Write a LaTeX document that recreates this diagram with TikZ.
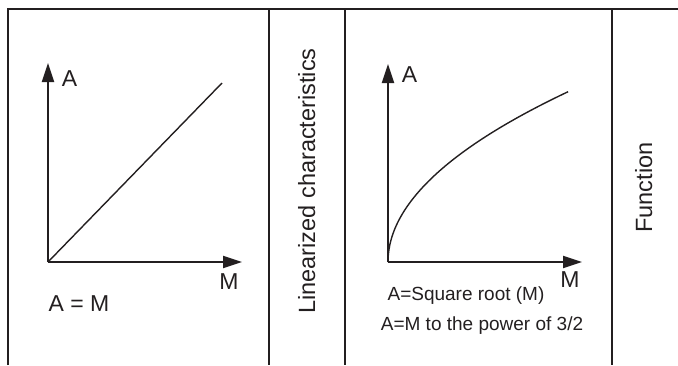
\documentclass[tikz,border=0pt]{standalone}
\usepackage{fontspec}
\setmainfont{Liberation Sans}
\usepackage{xcolor}
\usepackage{tikz}
\usetikzlibrary{arrows.meta, positioning, calc}
\definecolor{ink}{RGB}{35, 31, 32}

\begin{document}
\begin{tikzpicture}[x=1pt, y=-1pt,
    frame/.style={draw=ink, line width=2pt},
    axis/.style={draw=ink, line width=2.2pt, -{Triangle[length=19pt, width=12pt]}},
    graph/.style={draw=ink, line width=1.4pt},
    axlabel/.style={font=\fontsize{23}{27}\selectfont, text=ink, inner sep=0pt},
    note/.style={font=\fontsize{19}{23}\selectfont, text=ink, inner sep=0pt, anchor=base},
    title/.style={font=\fontsize{23.5}{28}\selectfont, text=ink, inner sep=0pt, rotate=90, anchor=base}]
    \useasboundingbox (0,0) rectangle (678,365);

    % Tabella (bordo aperto in basso)
    \draw[frame] (8,365) -- (8,9) -- (678,9);
    \foreach \x in {269, 612} {
        \draw[frame] (\x,9) -- (\x,365);
    }
    \draw[frame, line width=2.5pt] (345,9) -- (345,365);

    % Grafico lineare
    \coordinate (lo) at (48,262);
    \coordinate (ly) at (48,63);
    \coordinate (lx) at (242,262);
    \coordinate (lend) at (222,83);
    \draw[axis] (lo) -- (ly);
    \draw[axis] (lo) -- (lx);
    \draw[graph] (lo) -- (lend);
    \node[axlabel] (lA) at (69.5,78.5) {A};
    \node[axlabel] (lM) at (229,281.5) {M};
    \node[axlabel] (leq) at (79,303.5) {A = M};

    % Grafico radice
    \coordinate (ro) at (388,262);
    \coordinate (ry) at (388,64);
    \coordinate (rx) at (582,262);
    \draw[axis] (ro) -- (ry);
    \draw[axis] (ro) -- (rx);
    \draw[graph] plot[domain=0:13.42, samples=40, smooth] ({388+\x*\x}, {262-12.69*\x});
    \node[axlabel] (rA) at (409.5,75) {A};
    \node[axlabel] (rM) at (570,279.5) {M};
    \node[note] (rsq) at (466,300) {A=Square root (M)};
    \node[note] (rpow) at (482,330) {A=M to the power of 3/2};

    % Titoli verticali
    \node[title] (lin) at (315,181) {Linearized characteristics};
    \node[title] (fun) at (652,187.5) {Function};
\end{tikzpicture}
\end{document}
